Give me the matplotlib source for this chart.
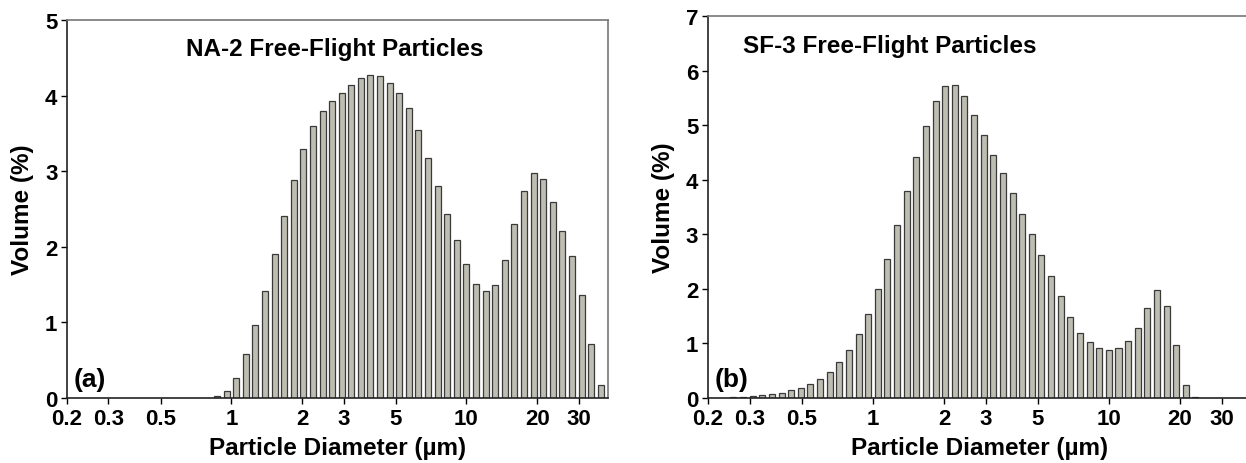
import matplotlib.pyplot as plt
import numpy as np

plt.rcParams['font.family'] = ['Liberation Sans', 'DejaVu Sans']
plt.rcParams['font.weight'] = 'bold'

# bin centre diameters (um), shared by both panels
diam = [0.256, 0.281, 0.309, 0.340, 0.373, 0.410, 0.450, 0.494, 0.543, 0.596,
        0.655, 0.720, 0.791, 0.869, 0.954, 1.048, 1.151, 1.265, 1.389, 1.526,
        1.677, 1.842, 2.023, 2.223, 2.442, 2.682, 2.946, 3.236, 3.555, 3.905,
        4.289, 4.712, 5.176, 5.686, 6.246, 6.861, 7.537, 8.279, 9.095, 9.991,
        10.98, 12.06, 13.24, 14.55, 15.98, 17.55, 19.28, 21.18, 23.27, 25.56,
        28.08, 30.85, 33.88, 37.22]

# NA-2 volume (%)
vol_na2 = [0, 0, 0, 0, 0, 0, 0, 0, 0, 0,
           0, 0, 0, 0.02, 0.09, 0.27, 0.58, 0.97, 1.42, 1.90,
           2.41, 2.88, 3.29, 3.60, 3.80, 3.93, 4.03, 4.14, 4.23, 4.27,
           4.26, 4.17, 4.04, 3.83, 3.54, 3.18, 2.80, 2.44, 2.09, 1.77,
           1.51, 1.41, 1.50, 1.82, 2.30, 2.74, 2.97, 2.89, 2.59, 2.21,
           1.88, 1.36, 0.72, 0.17]

# SF-3 volume (%)
vol_sf3 = [0.01, 0.02, 0.03, 0.05, 0.07, 0.10, 0.14, 0.19, 0.26, 0.35,
           0.48, 0.66, 0.88, 1.17, 1.54, 2.00, 2.55, 3.17, 3.80, 4.42,
           4.99, 5.45, 5.71, 5.73, 5.53, 5.18, 4.82, 4.46, 4.12, 3.75,
           3.37, 3.00, 2.62, 2.24, 1.86, 1.48, 1.20, 1.03, 0.92, 0.88,
           0.91, 1.04, 1.29, 1.64, 1.98, 1.69, 0.97, 0.24, 0.02, 0,
           0, 0, 0, 0]

xticks = [0.2, 0.3, 0.5, 1, 2, 3, 5, 10, 20, 30]
xticklabels = ['0.2', '0.3', '0.5', '1', '2', '3', '5', '10', '20', '30']


def draw(ax, vol, ymax, title, tx, ha, tag):
    d = np.array(diam)
    v = np.array(vol)
    keep = v > 0
    d = d[keep]
    v = v[keep]
    hw = 0.0128  # half bar width in log10 units
    left = d * 10 ** (-hw)
    width = d * 10 ** hw - left
    ax.bar(left, v, width=width, align='edge', color='#bdbdb1',
           edgecolor='#3a3a3a', linewidth=0.9)
    ax.set_xscale('log')
    ax.set_xlim(0.2, 40)
    ax.set_ylim(0, ymax)
    ax.set_xticks(xticks)
    ax.set_xticklabels(xticklabels)
    ax.minorticks_off()
    ax.set_yticks(range(0, ymax + 1))
    ax.tick_params(direction='out', length=4, width=1, labelsize=16, pad=3)
    for lab in ax.get_xticklabels() + ax.get_yticklabels():
        lab.set_fontweight('bold')
    ax.set_xlabel('Particle Diameter (\u00b5m)', fontsize=17.5, fontweight='bold', labelpad=5)
    ax.set_ylabel('Volume (%)', fontsize=17.5, fontweight='bold', labelpad=8)
    for s in ['left', 'bottom']:
        ax.spines[s].set_color('#222222')
        ax.spines[s].set_linewidth(1.2)
    for s in ['top', 'right']:
        ax.spines[s].set_color('#777777')
        ax.spines[s].set_linewidth(1.2)
    ax.text(tx, 0.924, title, transform=ax.transAxes, ha=ha, va='center',
            fontsize=17.5, fontweight='bold')
    ax.text(0.012, 0.05, tag, transform=ax.transAxes, ha='left', va='center',
            fontsize=19, fontweight='bold')


fig = plt.figure(figsize=(12.46, 4.64), dpi=100)
ax1 = fig.add_axes([0.0538, 0.1401, 0.4342, 0.8147])
ax2 = fig.add_axes([0.5682, 0.1401, 0.4358, 0.8233])

draw(ax1, vol_na2, 5, 'NA-2 Free-Flight Particles', 0.495, 'center', '(a)')
draw(ax2, vol_sf3, 7, 'SF-3 Free-Flight Particles', 0.064, 'left', '(b)')

plt.savefig('out.png', dpi=100)
